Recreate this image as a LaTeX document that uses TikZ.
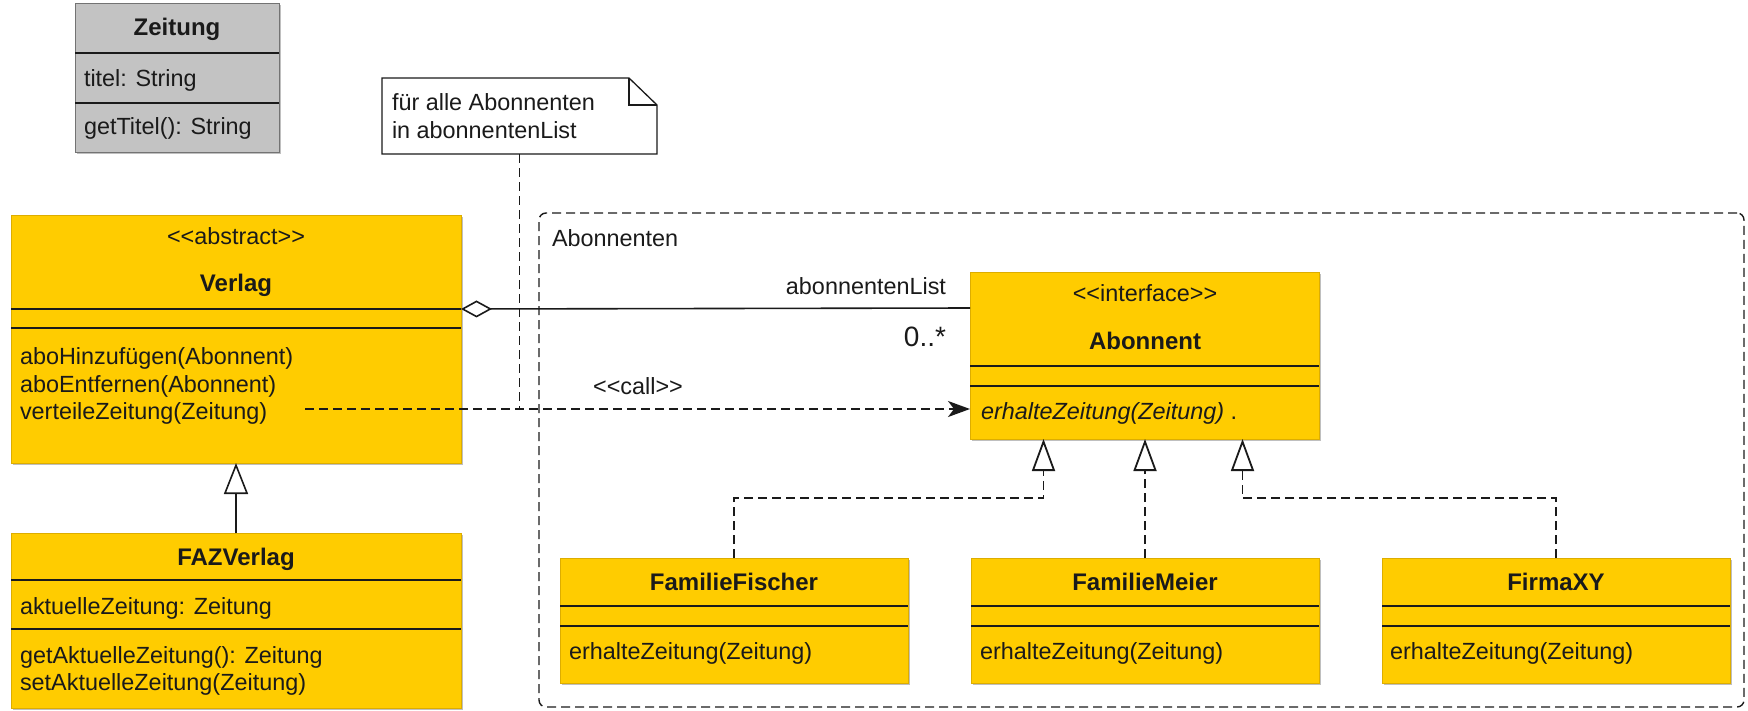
\documentclass[tikz,border=0pt]{standalone}
\usepackage{fontspec}
\setmainfont{Liberation Sans}
\usetikzlibrary{arrows.meta,shadows}

\definecolor{umlyellow}{HTML}{FFCC00}
\definecolor{umlborder}{HTML}{DDAD00}
\definecolor{umlgray}{HTML}{C3C3C3}
\definecolor{ink}{HTML}{1A1A1A}

% stereotype in guillemet-style angle brackets (kerns keep the brackets apart)
\newcommand\stereo[1]{<\kern0pt<#1>\kern0pt>}

\begin{document}
\begin{tikzpicture}[x=1pt,y=-1pt,
  font=\fontsize{23.4pt}{28pt}\selectfont,
  every node/.style={inner sep=0pt, outer sep=0pt, text=ink},
  boxshadow/.style={drop shadow={shadow xshift=2pt, shadow yshift=-2pt, fill=black, opacity=0.25}},
  classbox/.style={draw=umlborder, fill=umlyellow, line width=1pt, anchor=north west, boxshadow},
  graybox/.style={draw=black!55, fill=umlgray, line width=1pt, anchor=north west, boxshadow},
  classrule/.style={draw=ink, line width=1.6pt},
  member/.style={anchor=west, text height=16pt, text depth=3.5pt},
  classname/.style={font=\fontsize{24pt}{28pt}\selectfont\bfseries, text height=14pt, text depth=3.5pt},
  stereotype/.style={text height=16pt, text depth=3.5pt},
  dashedline/.style={dash pattern=on 9pt off 5pt, line width=1.8pt},
  assoc/.style={draw=ink, line width=1.6pt},
  aggregation/.style={assoc, {Diamond[open, fill=white, length=31pt, width=17pt]}-},
  callarrow/.style={assoc, dashedline, -{Stealth[length=22pt, width=16pt, inset=6pt]}},
  inherit/.style={assoc, -{Triangle[open, fill=white, length=31pt, width=24pt]}},
  realize/.style={assoc, dashedline, -{Triangle[open, fill=white, length=32pt, width=23pt]}},
]
\useasboundingbox (0,0) rectangle (1748,710);

% ---------- Zeitung ----------
\node[graybox, minimum width=204pt, minimum height=149pt] (zeitung) at (75,3) {};
\draw[classrule] (75,53) -- (279,53);
\draw[classrule] (75,103) -- (279,103);
\node[classname] (zeitungname) at (177,30) {Zeitung};
\node[member] (zeitungattr) at (84,80) {titel: String};
\node[member] (zeitungop) at (84,128) {getTitel(): String};

% ---------- note ----------
\node[minimum width=275pt, minimum height=76pt, anchor=north west] (note) at (382,78) {};
\draw[draw=ink, line width=1.3pt, fill=white, line join=miter]
  (note.north west) -- ([xshift=-28pt]note.north east) -- ([yshift=-27pt]note.north east)
  -- (note.south east) -- (note.south west) -- cycle;
\draw[draw=ink, line width=1.3pt]
  ([xshift=-28pt]note.north east) -- ([xshift=-28pt,yshift=-27pt]note.north east)
  -- ([yshift=-27pt]note.north east);
\node[anchor=west, align=left] (notetext) at (392,116) {für alle Abonnenten\\in abonnentenList};

% ---------- package frame ----------
\node[draw=ink, line width=1.4pt, dash pattern=on 9pt off 5pt, rounded corners=7pt,
      minimum width=1205pt, minimum height=494pt, anchor=north west] (frame) at (539,213) {};
\node[member] (framelabel) at (552,240) {Abonnenten};

% ---------- Verlag ----------
\node[classbox, minimum width=450pt, minimum height=248pt] (verlag) at (11,215) {};
\draw[classrule] (11,309) -- (461,309);
\draw[classrule] (11,328) -- (461,328);
\node[stereotype] (verlagstereo) at (236,238) {\stereo{abstract}};
\node[classname] (verlagname) at (236,286) {Verlag};
\node[member] (verlagop1) at (20,358) {aboHinzufügen(Abonnent)};
\node[member] (verlagop2) at (20,386) {aboEntfernen(Abonnent)};
\node[member] (verlagop3) at (20,413) {verteileZeitung(Zeitung)};

% ---------- FAZVerlag ----------
\node[classbox, minimum width=450pt, minimum height=175pt] (faz) at (11,533) {};
\draw[classrule] (11,580) -- (461,580);
\draw[classrule] (11,629) -- (461,629);
\node[classname] (fazname) at (236,560) {FAZVerlag};
\node[member] (fazattr) at (20,608) {aktuelleZeitung: Zeitung};
\node[member] (fazop1) at (20,657) {getAktuelleZeitung(): Zeitung};
\node[member] (fazop2) at (20,684) {setAktuelleZeitung(Zeitung)};

% ---------- Abonnent ----------
\node[classbox, minimum width=349pt, minimum height=167pt] (abonnent) at (970,272) {};
\draw[classrule] (970,366) -- (1319,366);
\draw[classrule] (970,386) -- (1319,386);
\node[stereotype] (abostereo) at (1145,295) {\stereo{interface}};
\node[classname] (aboname) at (1145,344) {Abonnent};
\node[member] (aboop) at (981,413) {\itshape erhalteZeitung(Zeitung)\upshape\ .};

% ---------- FamilieFischer ----------
\node[classbox, minimum width=348pt, minimum height=125pt] (fischer) at (560,558) {};
\draw[classrule] (560,606) -- (908,606);
\draw[classrule] (560,626) -- (908,626);
\node[classname] (fischername) at (734,585) {FamilieFischer};
\node[member] (fischerop) at (569,653) {erhalteZeitung(Zeitung)};

% ---------- FamilieMeier ----------
\node[classbox, minimum width=348pt, minimum height=125pt] (meier) at (971,558) {};
\draw[classrule] (971,606) -- (1319,606);
\draw[classrule] (971,626) -- (1319,626);
\node[classname] (meiername) at (1145,585) {FamilieMeier};
\node[member] (meierop) at (980,653) {erhalteZeitung(Zeitung)};

% ---------- FirmaXY ----------
\node[classbox, minimum width=348pt, minimum height=125pt] (firma) at (1382,558) {};
\draw[classrule] (1382,606) -- (1730,606);
\draw[classrule] (1382,626) -- (1730,626);
\node[classname] (firmaname) at (1556,585) {FirmaXY};
\node[member] (firmaop) at (1390,653) {erhalteZeitung(Zeitung)};

% ---------- connectors ----------
% aggregation Verlag <>--- Abonnent
\draw[aggregation] ([yshift=-94pt]verlag.north east) -- ([yshift=-36pt]abonnent.north west);
\node[anchor=east, text height=16pt, text depth=3.5pt] (rolelabel) at (946,288) {abonnentenList};
\node[anchor=east, font=\fontsize{28pt}{32pt}\selectfont, text height=20pt, text depth=0pt] (multlabel) at (946,336) {0..*};

% call dependency from verteileZeitung to Abonnent
\coordinate (callstart) at (305,409);
\draw[callarrow] (callstart) -- (callstart -| abonnent.west);
\node[stereotype] (calllabel) at (638,388) {\stereo{call}};

% note anchor
\draw[assoc, dashedline] (note.south) -- (note.south |- callstart);

% generalisation FAZVerlag -> Verlag
\draw[inherit] (faz.north) -- (verlag.south);

% realisations of the interface
\draw[realize] (fischer.north) -- ++(0,-60) -| ([xshift=-101pt]abonnent.south);
\draw[realize] (meier.north) -- (meier.north |- abonnent.south);
\draw[realize] (firma.north) -- ++(0,-60) -| ([xshift=98pt]abonnent.south);
\end{tikzpicture}
\end{document}
